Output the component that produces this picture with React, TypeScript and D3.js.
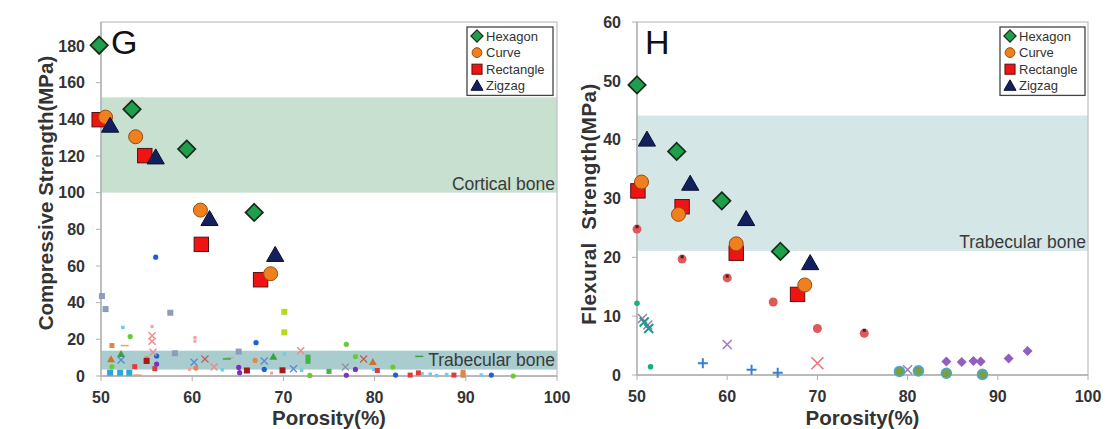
import React from "react";
import * as d3 from "d3";

// ---------- data ----------
const xTicks = [50, 60, 70, 80, 90, 100];
const compTicks = [0, 20, 40, 60, 80, 100, 120, 140, 160, 180];
const flexTicks = [0, 10, 20, 30, 40, 50, 60];
const seriesNames = ["Hexagon", "Curve", "Rectangle", "Zigzag"];

const compHexagon: [number, number][] = [[49.8, 180.4], [53.4, 145.5], [59.4, 123.8], [66.8, 89.2]];
const compCurve: [number, number][] = [[50.5, 141.2], [53.8, 130.5], [60.9, 90.5], [68.6, 55.8]];
const compRectangle: [number, number][] = [[49.8, 139.8], [54.8, 120.2], [61.0, 71.8], [67.5, 52.5]];
const compZigzag: [number, number][] = [[51.0, 136.5], [56.0, 119.2], [61.9, 85.6], [69.1, 66.0]];

const flexHexagon: [number, number][] = [[50.0, 49.3], [54.4, 38.0], [59.4, 29.6], [65.9, 21.0]];
const flexCurve: [number, number][] = [[50.5, 32.8], [54.6, 27.3], [61.0, 22.3], [68.6, 15.3]];
const flexRectangle: [number, number][] = [[50.1, 31.3], [55.0, 28.6], [61.0, 20.7], [67.8, 13.7]];
const flexZigzag: [number, number][] = [[51.1, 40.0], [55.9, 32.5], [62.1, 26.5], [69.2, 19.0]];

const cortical = [100, 152];
const compTrabecular = [3.5, 13.8];
const flexTrabecular = [21.1, 44.1];

// background literature points: [porosity, strength, kind]
const compBackground: [number, number, string][] = [
  [50.1, 43.6, "slateSq"], [50.5, 36.5, "slateSq"], [57.6, 34.5, "slateSq"], [58.1, 12.4, "slateSq"], [65.1, 13.3, "slateSq"],
  [70.1, 35.0, "limeSq"], [70.1, 23.8, "limeSq"],
  [56.0, 64.8, "blueDot"], [67.0, 18.2, "blueDot"], [56.1, 10.9, "blueDot"], [67.9, 3.6, "blueDot"], [82.3, 0.5, "blueDot"], [92.8, 0.5, "blueDot"],
  [76.9, 17.3, "greenDot"], [53.2, 21.5, "greenDot"], [51.2, 5.0, "greenDot"], [77.9, 10.6, "greenDot"], [82.0, 4.9, "greenDot"], [72.9, 0.3, "greenDot"], [95.2, 0.0, "greenDot"],
  [52.4, 26.5, "cyanSm"], [70.1, 12.0, "cyanSm"], [79.9, 3.6, "cyanSm"], [72.0, 3.1, "cyanSm"], [63.3, 3.4, "cyanSm"], [85.2, 1.2, "cyanSm"], [86.1, 1.0, "cyanSm"], [86.8, 0.2, "cyanSm"], [87.9, 0.8, "cyanSm"], [91.7, 0.5, "cyanSm"],
  [51.0, 1.8, "cyanSq"], [52.1, 1.8, "cyanSq"], [53.1, 1.8, "cyanSq"],
  [51.2, 16.6, "orangeSq"], [52.6, 16.6, "orangeDash"], [89.7, 2.0, "orangeSq"], [89.7, 0.4, "orangeSq"], [66.9, 8.5, "orangeDot"], [55.0, 9.5, "orangeDot"], [60.4, 4.3, "orangeDot"], [54.0, 0.5, "orangeDash"], [64.1, 10.0, "orangeDash"],
  [55.6, 27.0, "pinkSm"], [55.6, 22.0, "pinkX"], [55.6, 19.0, "pinkX"], [55.7, 13.0, "pinkX"], [60.3, 21.0, "pinkSm"], [60.3, 19.0, "pinkSm"], [71.9, 13.8, "pinkX"], [68.7, 1.6, "pinkSm"], [59.7, 3.6, "pinkSm"], [62.4, 4.9, "pinkX"],
  [53.7, 5.1, "redSq"], [55.9, 4.0, "redSq"], [83.9, 0.5, "redSq"], [84.8, 1.7, "redSq"], [88.7, 0.5, "redSq"], [80.3, 3.0, "redSq"],
  [55.0, 8.2, "darkRedSq"], [66.0, 3.0, "darkRedSq"], [69.9, 3.1, "darkRedSq"],
  [56.1, 6.5, "purpleDot"], [65.1, 4.7, "purpleDot"], [65.2, 1.8, "purpleDot"], [77.9, 3.6, "purpleDot"], [76.9, 0.4, "purpleDot"],
  [52.2, 12.0, "greenTri"], [68.9, 10.5, "greenTri"], [51.1, 9.1, "orangeTri"], [79.8, 7.6, "orangeTri"],
  [52.2, 8.7, "blueX"], [60.2, 7.5, "blueX"], [67.9, 8.2, "blueX"], [71.1, 4.0, "blueX"],
  [72.7, 10.3, "greenSq"], [72.7, 8.0, "greenSq"], [75.0, 2.5, "greenSq"],
  [76.8, 4.9, "greyX"], [61.4, 9.3, "brownX"], [78.8, 9.3, "brownX"],
  [63.8, 9.3, "greenDash"], [84.9, 10.7, "greenDash"],
];

const flexBackground: [number, number, string][] = [
  [50.0, 24.8, "redDot"], [55.0, 19.7, "redDot"], [60.0, 16.5, "redDot"], [65.1, 12.4, "redDot"], [70.0, 7.9, "redDot"], [75.2, 7.1, "redDot"],
  [50.0, 25.2, "darkTop"], [55.0, 20.1, "darkTop"], [60.0, 16.8, "darkTop"], [75.2, 7.6, "darkTop"],
  [50.0, 12.2, "tealDot"], [51.5, 1.4, "tealDot"],
  [50.6, 9.6, "purpleX"], [51.2, 8.5, "purpleX"], [50.8, 9.0, "tealX"], [51.3, 7.9, "tealX"],
  [60.0, 5.2, "purpleX"], [80.0, 0.9, "purpleX"],
  [57.3, 2.0, "bluePlus"], [62.7, 0.9, "bluePlus"], [65.6, 0.4, "bluePlus"],
  [70.0, 2.0, "pinkXL"],
  [79.1, 0.6, "ringGreen"], [81.2, 0.7, "ringGreen"], [84.3, 0.3, "ringGreen"], [88.3, 0.1, "ringGreen"],
  [84.3, 2.3, "purpleDia"], [86.0, 2.2, "purpleDia"], [87.3, 2.4, "purpleDia"], [88.1, 2.3, "purpleDia"], [91.2, 2.8, "purpleDia"], [93.3, 4.1, "purpleDia"],
];

// ---------- styles ----------
const FONT = "'Liberation Sans', Arial, sans-serif";
const AXIS = "#b0b0b0";
const TXT = "#333";

type BgStyle = { shape: string; size: number; fill?: string; stroke?: string; sw?: number };
const bgStyles: Record<string, BgStyle> = {
  slateSq: { shape: "square", size: 6, fill: "#8d9cb8" },
  limeSq: { shape: "square", size: 6, fill: "#b4d824" },
  blueDot: { shape: "circle", size: 2.6, fill: "#1f60d0" },
  greenDot: { shape: "circle", size: 2.6, fill: "#66cc33" },
  cyanSm: { shape: "square", size: 3.5, fill: "#6ccdf0" },
  cyanSq: { shape: "square", size: 6, fill: "#2aa8dc" },
  orangeSq: { shape: "square", size: 5, fill: "#e4844a" },
  orangeDot: { shape: "circle", size: 2.6, fill: "#e8864a" },
  orangeDash: { shape: "dash", size: 4, stroke: "#f0a060", sw: 1.5 },
  pinkSm: { shape: "square", size: 3, fill: "#f0a0a0" },
  pinkX: { shape: "x", size: 3.5, stroke: "#f08a8a", sw: 1.4 },
  redSq: { shape: "square", size: 5, fill: "#e23a3a" },
  darkRedSq: { shape: "square", size: 6, fill: "#a81818" },
  purpleDot: { shape: "circle", size: 2.6, fill: "#7a30c0" },
  greenTri: { shape: "tri", size: 4, fill: "#3aa040" },
  orangeTri: { shape: "tri", size: 4, fill: "#d07030" },
  blueX: { shape: "x", size: 3.5, stroke: "#5a88d8", sw: 1.3 },
  greenSq: { shape: "square", size: 5, fill: "#44b444" },
  greyX: { shape: "x", size: 3.5, stroke: "#9090a0", sw: 1.3 },
  brownX: { shape: "x", size: 3.5, stroke: "#c06050", sw: 1.3 },
  greenDash: { shape: "dash", size: 4, stroke: "#40a040", sw: 1.5 },
  redDot: { shape: "circle", size: 4.5, fill: "#e05858" },
  darkTop: { shape: "square", size: 3, fill: "#402020" },
  tealDot: { shape: "circle", size: 2.8, fill: "#12b27a" },
  tealX: { shape: "x", size: 4.5, stroke: "#1c9a88", sw: 2 },
  purpleX: { shape: "x", size: 4.5, stroke: "#9a78b8", sw: 1.4 },
  bluePlus: { shape: "plus", size: 5, stroke: "#3a80d0", sw: 2 },
  pinkXL: { shape: "x", size: 6, stroke: "#f07080", sw: 1.6 },
  ringGreen: { shape: "ring", size: 5, fill: "#7aa040", stroke: "#4aa8d8", sw: 1.6 },
  purpleDia: { shape: "diamond", size: 5, fill: "#9060c0" },
};

function BgMark({ cx, cy, st }: { cx: number; cy: number; st: BgStyle }) {
  const s = st.size;
  switch (st.shape) {
    case "square":
      return <rect x={cx - s / 2} y={cy - s / 2} width={s} height={s} fill={st.fill} />;
    case "circle":
      return <circle cx={cx} cy={cy} r={s} fill={st.fill} />;
    case "ring":
      return <circle cx={cx} cy={cy} r={s} fill={st.fill} stroke={st.stroke} strokeWidth={st.sw} />;
    case "tri":
      return <path d={`M${cx},${cy - s}L${cx + s},${cy + s * 0.75}L${cx - s},${cy + s * 0.75}Z`} fill={st.fill} />;
    case "diamond":
      return <path d={`M${cx},${cy - s}L${cx + s},${cy}L${cx},${cy + s}L${cx - s},${cy}Z`} fill={st.fill} />;
    case "x":
      return <path d={`M${cx - s},${cy - s}L${cx + s},${cy + s}M${cx - s},${cy + s}L${cx + s},${cy - s}`} stroke={st.stroke} strokeWidth={st.sw} />;
    case "plus":
      return <path d={`M${cx - s},${cy}L${cx + s},${cy}M${cx},${cy - s}L${cx},${cy + s}`} stroke={st.stroke} strokeWidth={st.sw} />;
    case "dash":
      return <path d={`M${cx - s},${cy}L${cx + s},${cy}`} stroke={st.stroke} strokeWidth={st.sw} />;
  }
  return null;
}

const seriesStyle = [
  { fill: "#1e9f4c", stroke: "#1a2a1a" },
  { fill: "#f07f1e", stroke: "#9a4d0c" },
  { fill: "#ee1414", stroke: "#5a1010" },
  { fill: "#12215e", stroke: "#0a1030" },
];

function MainMark({ cx, cy, k, scale = 1 }: { cx: number; cy: number; k: number; scale?: number }) {
  const st = seriesStyle[k];
  if (k === 0) {
    const s = 8.7 * scale;
    return <path d={`M${cx},${cy - s}L${cx + s},${cy}L${cx},${cy + s}L${cx - s},${cy}Z`} fill={st.fill} stroke={st.stroke} strokeWidth={1.7 * scale} />;
  }
  if (k === 1) return <circle cx={cx} cy={cy} r={7 * scale} fill={st.fill} stroke={st.stroke} strokeWidth={1} />;
  if (k === 2) {
    const s = 7.2 * scale;
    return <rect x={cx - s} y={cy - s} width={2 * s} height={2 * s} fill={st.fill} stroke={st.stroke} strokeWidth={1} />;
  }
  const s = 8.6 * scale;
  return <path d={`M${cx},${cy - s}L${cx + s},${cy + s * 0.75}L${cx - s},${cy + s * 0.75}Z`} fill={st.fill} stroke={st.stroke} strokeWidth={1} />;
}

type PanelProps = {
  x0: number; x1: number; yTop: number; yBottom: number;
  yTicks: number[]; yTickTop: number;
  series: [number, number][][];
  background: [number, number, string][];
  bands: { lo: number; hi: number; color: string; label: string; labelVal: number }[];
  letter: string; letterX: number;
  yLabel: string; yLabelX: number; yLabelY: number; yLabelSpacing: number;
  legendX: number; legendW: number;
};

function Panel(p: PanelProps) {
  const x = d3.scaleLinear().domain([50, 100]).range([p.x0, p.x1]);
  const yTopVal = p.yTicks[p.yTicks.length - 1];
  const y = d3.scaleLinear().domain([0, yTopVal]).range([p.yBottom, p.yTickTop]);
  const plotTop = p.yTop;
  const legendTop = 27;
  const rowH = 16.6;
  return (
    <g fontFamily={FONT}>
      {p.bands.map((b, i) => (
        <g key={i}>
          <rect x={p.x0} y={y(b.hi)} width={p.x1 - p.x0} height={y(b.lo) - y(b.hi)} fill={b.color} />
          <text x={p.x1 - 2} y={y(b.labelVal)} textAnchor="end" fontSize={17.5} fill="#3a3a3a">{b.label}</text>
        </g>
      ))}
      {/* frame */}
      <rect x={p.x0} y={plotTop} width={p.x1 - p.x0} height={p.yBottom - plotTop} fill="none" stroke="#c4c4c4" strokeWidth={1.3} />
      <line x1={p.x0} x2={p.x0} y1={plotTop} y2={p.yBottom} stroke={AXIS} strokeWidth={1.3} />
      <line x1={p.x0} x2={p.x1} y1={p.yBottom} y2={p.yBottom} stroke={AXIS} strokeWidth={1.3} />
      {/* y ticks */}
      {p.yTicks.map((t) => (
        <g key={t}>
          <line x1={p.x0 - 5} x2={p.x0} y1={y(t)} y2={y(t)} stroke={AXIS} strokeWidth={1} />
          <text x={p.x0 - 16} y={y(t)} dy="0.36em" textAnchor="end" fontSize={16} fontWeight="bold" fill={TXT}>{t}</text>
        </g>
      ))}
      {/* x ticks */}
      {xTicks.map((t) => (
        <g key={t}>
          <line x1={x(t)} x2={x(t)} y1={p.yBottom} y2={p.yBottom + 5} stroke={AXIS} strokeWidth={1} />
          <text x={x(t)} y={p.yBottom + 27} textAnchor="middle" fontSize={16} fontWeight="bold" fill={TXT}>{t}</text>
        </g>
      ))}
      <text x={(p.x0 + p.x1) / 2} y={425} textAnchor="middle" fontSize={20.5} fontWeight="bold" fill={TXT}>Porosity(%)</text>
      <text transform={`translate(${p.yLabelX},${p.yLabelY}) rotate(-90)`} textAnchor="middle" fontSize={20.5} fontWeight="bold" fill={TXT} letterSpacing={p.yLabelSpacing} style={{ whiteSpace: "pre" }}>{p.yLabel}</text>
      {/* background points */}
      {p.background.map(([px, py, k], i) => (
        <BgMark key={i} cx={x(px)} cy={y(py)} st={bgStyles[k]} />
      ))}
      {/* main series */}
      {[2, 1, 3, 0].map((k) => (
        <g key={k}>
          {p.series[k].map(([px, py], i) => (
            <MainMark key={i} cx={x(px)} cy={y(py)} k={k} />
          ))}
        </g>
      ))}
      <text x={p.letterX} y={54} fontSize={34} fill="#111">{p.letter}</text>
      {/* legend */}
      <rect x={p.legendX} y={legendTop} width={p.legendW} height={rowH * 4 + 2} fill="#fff" stroke="#444" strokeWidth={1.3} />
      {seriesNames.map((n, k) => (
        <g key={n}>
          <MainMark cx={p.legendX + 10} cy={legendTop + 9 + k * rowH} k={k} scale={0.7} />
          <text x={p.legendX + 19} y={legendTop + 9 + k * rowH} dy="0.36em" fontSize={13} fill="#333">{n}</text>
        </g>
      ))}
    </g>
  );
}

export default function App() {
  return (
    <svg width={1105} height={429} style={{ position: "absolute", left: 0, top: 0, background: "#fff" }}>
      <rect width={1105} height={429} fill="#fff" />
      <Panel
        x0={101} x1={557} yTop={22} yBottom={376} yTicks={compTicks} yTickTop={46}
        series={[compHexagon, compCurve, compRectangle, compZigzag]}
        background={compBackground}
        bands={[
          { lo: cortical[0], hi: cortical[1], color: "#c8e0cf", label: "Cortical bone", labelVal: cortical[0] + 1.6 },
          { lo: compTrabecular[0], hi: compTrabecular[1], color: "#a9cdcf", label: "Trabecular bone", labelVal: compTrabecular[0] + 2 },
        ]}
        letter="G" letterX={111}
        yLabel="Compressive Strength(MPa)" yLabelX={53} yLabelY={193} yLabelSpacing={0}
        legendX={467} legendW={86}
      />
      <Panel
        x0={637} x1={1088} yTop={22} yBottom={375} yTicks={flexTicks} yTickTop={22}
        series={[flexHexagon, flexCurve, flexRectangle, flexZigzag]}
        background={flexBackground}
        bands={[
          { lo: flexTrabecular[0], hi: flexTrabecular[1], color: "#d4e6e6", label: "Trabecular bone", labelVal: flexTrabecular[0] + 0.5 },
        ]}
        letter="H" letterX={645}
        yLabel="Flexural  Strength(MPa)" yLabelX={596} yLabelY={204} yLabelSpacing={0.5}
        legendX={1000} legendW={85}
      />
    </svg>
  );
}
